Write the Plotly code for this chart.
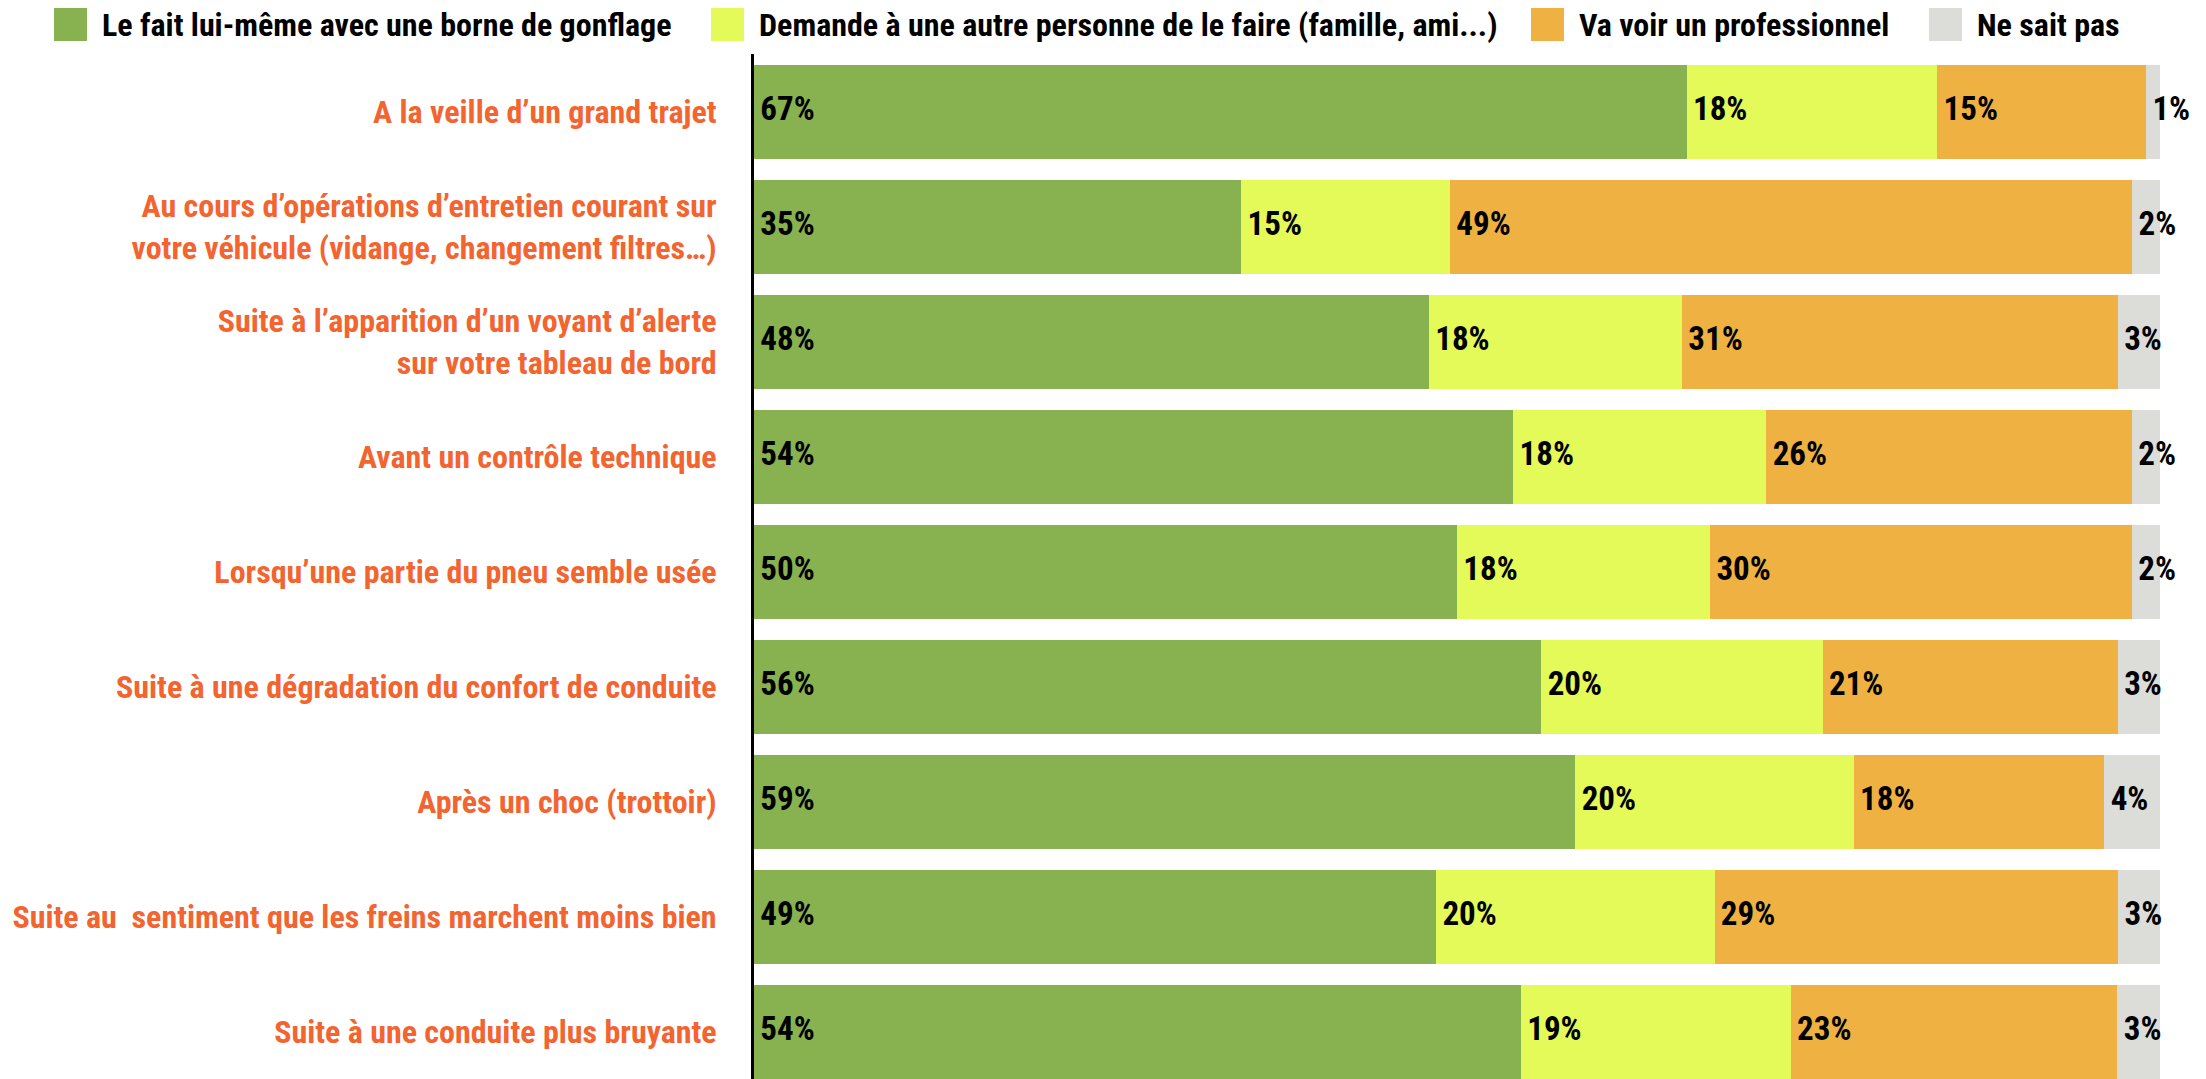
import plotly.graph_objects as go

# Survey answers, one list per response, same order as the questions
questions = [
    "A la veille d’un grand trajet",
    "Au cours d’opérations d’entretien courant sur<br>votre véhicule (vidange, changement filtres…)",
    "Suite à l’apparition d’un voyant d’alerte<br>sur votre tableau de bord",
    "Avant un contrôle technique",
    "Lorsqu’une partie du pneu semble usée",
    "Suite à une dégradation du confort de conduite",
    "Après un choc (trottoir)",
    "Suite au\u00a0 sentiment que les freins marchent moins bien",
    "Suite à une conduite plus bruyante",
]
series_names = [
    "Le fait lui-même avec une borne de gonflage",
    "Demande à une autre personne de le faire (famille, ami...)",
    "Va voir un professionnel",
    "Ne sait pas",
]
lui_meme = [67, 35, 48, 54, 50, 56, 59, 49, 54]
autre_personne = [18, 15, 18, 18, 18, 20, 20, 20, 19]
professionnel = [15, 49, 31, 26, 30, 21, 18, 29, 23]
ne_sait_pas = [1, 2, 3, 2, 2, 3, 4, 3, 3]

series = [lui_meme, autre_personne, professionnel, ne_sait_pas]
colors = ["#88B150", "#E4FA58", "#EFB242", "#DCDDD9"]

FONT = "Liberation Sans Narrow, Roboto Condensed, DejaVu Sans Condensed, Arial Narrow, sans-serif"

fig = go.Figure()

# stacked bars, normalised to 100 % per question
for name, vals, col in zip(series_names, series, colors):
    fig.add_trace(go.Bar(
        y=questions,
        x=vals,
        name=name,
        orientation="h",
        marker=dict(color=col, line=dict(width=0)),
        showlegend=False,
        hoverinfo="skip",
    ))

# value labels at the left edge of every segment
totals = [sum(v) for v in zip(*series)]
start = [0.0] * len(questions)
for vals in series:
    xs = [s / t * 100 + 0.45 for s, t in zip(start, totals)]
    fig.add_trace(go.Scatter(
        y=questions,
        x=xs,
        mode="text",
        text=[f"{v}%" for v in vals],
        textposition="middle right",
        textfont=dict(family=FONT, size=33, color="black", weight="bold"),
        showlegend=False,
        hoverinfo="skip",
        cliponaxis=False,
    ))
    start = [s + v for s, v in zip(start, vals)]

# hand-made legend across the top (big square swatches)
W, L, T, H = 2206, 754, 54, 1079
plot_w, plot_h = W - L - 46, H - T
legend_px = [54, 711, 1531, 1929]


def px_x(p):
    return (p - L) / plot_w


def px_y(p):
    return 1 + (T - p) / plot_h


for name, col, p in zip(series_names, colors, legend_px):
    fig.add_shape(type="rect", xref="paper", yref="paper",
                  x0=px_x(p), x1=px_x(p + 33), y0=px_y(41), y1=px_y(8),
                  fillcolor=col, line=dict(width=0))
    fig.add_annotation(xref="paper", yref="paper", x=px_x(p + 46), y=px_y(25),
                       xanchor="left", yanchor="middle", showarrow=False,
                       text=name,
                       font=dict(family=FONT, size=32, color="black", weight="bold"))

fig.update_layout(
    width=W,
    height=H,
    barmode="stack",
    barnorm="percent",
    bargap=0.183,
    margin=dict(l=L, r=46, t=T, b=0, pad=0),
    plot_bgcolor="white",
    paper_bgcolor="white",
    font=dict(family=FONT),
    xaxis=dict(range=[0, 100], visible=False, fixedrange=True),
    yaxis=dict(
        range=[8.41, -0.504],
        showgrid=False,
        showline=True,
        linecolor="black",
        linewidth=3,
        ticks="",
        ticklabelstandoff=28,
        tickfont=dict(family=FONT, size=32, color="#F26430", weight="bold"),
        fixedrange=True,
    ),
)

fig.write_html("out.html", config={"displayModeBar": False},
               post_script="document.body.style.margin='0';")
